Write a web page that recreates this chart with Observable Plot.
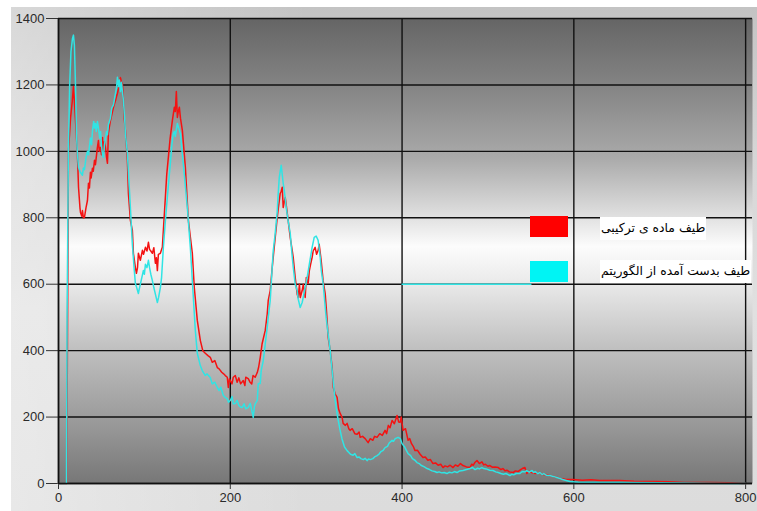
<!DOCTYPE html>
<html><head><meta charset="utf-8">
<script src="https://cdn.jsdelivr.net/npm/d3@7"></script>
<script src="https://cdn.jsdelivr.net/npm/@observablehq/plot@0.6"></script>
<style>
body{margin:0;background:#fff;}
#wrap{position:relative;width:757px;height:511px;overflow:hidden;background:#fff;}
#panel{position:absolute;left:11px;top:7px;right:0;bottom:0;
  background:linear-gradient(180deg,#c3c3c3 0%,#d6d6d6 30%,#e0e0e0 60%,#dcdcdc 100%);}
#panel2{position:absolute;left:11px;top:7px;right:0;bottom:0;
  background:linear-gradient(90deg,rgba(255,255,255,0.35) 0%,rgba(255,255,255,0) 40%,rgba(255,255,255,0) 100%);}
#chart{position:absolute;left:0;top:0;}
#chart svg{background:transparent;}
.sw{position:absolute;left:530px;width:38px;height:21px;}
.lt{position:absolute;left:600px;background:#fff;color:#000;direction:rtl;
  font-family:"DejaVu Sans",sans-serif;font-size:12.4px;line-height:22px;height:23px;padding:0 1px;white-space:nowrap;}
</style></head>
<body>
<svg width="0" height="0" style="position:absolute">
  <defs>
    <linearGradient id="plotbg" x1="0" y1="0" x2="0" y2="1">
      <stop offset="0" stop-color="#656565"/>
      <stop offset="0.15" stop-color="#858585"/>
      <stop offset="0.30" stop-color="#aaaaaa"/>
      <stop offset="0.44" stop-color="#e6e6e6"/>
      <stop offset="0.49" stop-color="#fcfcfc"/>
      <stop offset="0.56" stop-color="#ececec"/>
      <stop offset="0.72" stop-color="#bdbdbd"/>
      <stop offset="0.88" stop-color="#979797"/>
      <stop offset="1" stop-color="#777777"/>
    </linearGradient>
  </defs>
</svg>
<div id="wrap">
  <div id="panel"></div><div id="panel2"></div>
  <div id="chart"></div>
</div>
<script>
const xTicks = [0, 200, 400, 600, 800];
const yTicks = [0, 200, 400, 600, 800, 1000, 1200, 1400];
const seriesNames = ["طیف ماده ی ترکیبی", "طیف بدست آمده از الگوریتم"];
const seriesColors = ["#f41212", "#30e4e4"];

// red: spectrum of the compound material
const redSpectrum = [
[0,0],[8,0],[9.5,0],[10.5,450],[11.6,1000],[14,1100],[16,1150],[17.4,1195],[18.5,1150],[19.8,1093],
[22,994],[23.3,892],[25,830],[25.6,816],[27,805],[27.9,822],[29,800],[30.2,801],[32,830],[33.7,852],
[34.9,904],[36,890],[37.2,937],[38,920],[39.5,949],[40.5,940],[41.9,973],[43,960],[45.3,1012],[46.5,1033],
[47.5,1000],[48.8,1012],[50,990],[51.2,1042],[52.3,994],[53.5,1030],[54.7,1012],[56,980],[57,964],[58.1,1054],
[59,1070],[60.5,1093],[62,1110],[64,1133],[66,1150],[68.6,1175],[70,1190],[72.1,1222],[73.3,1208],[74.4,1205],
[75.6,1153],[76.5,1100],[77.9,1063],[80.2,973],[81.4,873],[83.7,792],[85,775],[86,762],[87.2,693],[89.5,651],
[90.7,633],[92,650],[93,693],[95.3,672],[97.7,702],[99,690],[101.2,711],[103,700],[104.7,726],[106,705],
[107.5,700],[109.3,693],[111,710],[112.8,663],[114,680],[115.1,641],[116.3,690],[118.6,693],[120.9,711],[122.5,780],
[124.4,861],[126,930],[127.9,982],[130,1040],[132.6,1093],[134.9,1133],[136,1120],[137.2,1180],[138.4,1102],[139.5,1120],
[140.7,1133],[142,1100],[144.2,1063],[147.7,952],[151.2,792],[155.8,693],[158.1,590],[161.6,491],[165.1,431],[168,400],
[170.9,392],[174,385],[176.7,380],[179,365],[182,370],[184.9,349],[187,345],[190,335],[191.9,331],[194.2,325],
[196.5,320],[197.7,289],[199,315],[200,310],[202,300],[203.5,320],[205.8,325],[208,305],[210,318],[212,300],
[215.1,310],[217,295],[218,320],[220.9,316],[223,305],[225,300],[226.5,325],[229,320],[231.4,334],[233,350],
[234.9,380],[237,420],[240.7,461],[243,510],[244.2,551],[246.5,581],[248.8,650],[250,681],[252.3,740],[254.7,801],
[256,830],[258.1,873],[259.3,880],[260.5,892],[261.6,831],[263,850],[264,861],[265.1,840],[267.4,792],[269.8,740],
[272.1,702],[273.3,680],[275.6,620],[277.9,570],[279.1,560],[280.5,600],[281.5,560],[283.7,581],[285,600],[287.2,560],
[288.5,620],[290.7,602],[292,640],[293.5,660],[295.3,681],[296.5,700],[298.8,711],[300.5,690],[302.3,702],[303.5,720],
[305.8,672],[308.1,610],[310.5,572],[312,520],[314,440],[316.3,400],[318.6,349],[320,289],[322,270],[324.4,259],
[326,225],[327.9,211],[330.2,199],[331.4,181],[334,175],[336,181],[338,165],[339.5,160],[342,165],[345,150],
[347.7,148],[350,155],[351.2,139],[354,142],[357,135],[360.5,123],[363,135],[366,130],[368,142],[370.9,139],
[374,150],[377,145],[380.2,160],[382,150],[384,175],[386,168],[388.4,190],[391,180],[394.2,205],[396,185],
[397.7,184],[399,200],[401.2,160],[404,165],[407,130],[409,135],[411,120],[413,112],[415.1,99],[418,100],
[421,88],[424.4,78],[427,80],[430,70],[433,72],[436,60],[439,62],[442,55],[445,58],[447.7,48],
[450,53],[453,50],[456,55],[459.3,48],[462,56],[465,52],[468,60],[470.9,54],[475,50],[479.1,48],
[481,58],[483,55],[485,64],[487.2,69],[490,60],[493,65],[495,56],[497,58],[500,52],[502.3,54],
[505,49],[508,50],[512,48],[515,42],[517.4,45],[520,38],[522,40],[525,35],[529.1,33],[532,38],
[535,36],[538,42],[540,45],[543,48],[545.3,30],[548,36],[550,34],[555,30],[560.5,33],[563,27],
[566,28],[572.1,24],[578,20],[583.7,15],[590,13],[598.8,12],[610,10],[620,11],[630.2,9],[653.5,9],
[670,7],[693,6],[710,5],[727.9,3],[758.1,3],[780,2],[796.5,0],[800,0]
];

// cyan: spectrum obtained from the algorithm
const cyanSpectrum = [
[0,0],[8,0],[9.3,0],[10,500],[11.5,1000],[13,1200],[14.5,1300],[16.3,1340],[17.4,1350],[18.5,1320],
[19.8,1200],[21,1050],[22.1,990],[23.3,952],[25,940],[25.6,937],[27.9,928],[29,950],[30.2,945],[32,980],
[33.7,1000],[35,990],[37.2,1040],[38.5,1020],[39.5,1060],[41,1090],[42,1070],[43,1084],[44,1060],[45.3,1090],
[46.5,1070],[48,1040],[49,1060],[50,1020],[51.2,990],[52.3,982],[53.5,1020],[54.7,1040],[56,1060],[57,1050],
[58.1,1080],[60.5,1100],[62,1130],[64,1140],[66,1170],[67.5,1190],[68.6,1223],[70,1195],[71,1215],[72.1,1180],
[73.3,1208],[74.4,1180],[75.6,1153],[77,1100],[78,1050],[80.2,994],[83.7,831],[86,720],[88,650],[89.5,602],
[91,590],[93,572],[94,585],[95.3,600],[97,620],[98.8,641],[100,630],[101.2,660],[103,650],[104.7,672],
[106,650],[107.5,630],[109.3,611],[111,590],[112.8,570],[115.1,545],[116.5,560],[118.6,590],[120,620],[122.1,711],
[124.4,790],[126.7,861],[128,900],[130.2,964],[132,1020],[133.7,1054],[135,1060],[136,1045],[138.4,1084],[140,1070],
[141.9,1054],[143.5,1010],[145.3,964],[150,831],[153.5,711],[155.8,611],[159.3,461],[161.6,392],[165.1,355],[167.4,340],
[170.9,325],[173,330],[176.7,319],[179,300],[182,305],[184.9,289],[187,280],[189,290],[191.9,265],[194.2,259],
[196.5,255],[198,245],[200,250],[202,262],[203.5,240],[205.8,241],[208,250],[210,235],[212,230],[214,229],
[216,240],[218,225],[220.9,229],[223.3,241],[225,220],[226.7,199],[228,230],[229,240],[231.4,250],[232.6,301],
[234.9,301],[236,340],[238.4,370],[240.7,420],[243,470],[244.2,500],[246.5,551],[248.8,651],[250,700],[252.3,753],
[254.7,820],[255.8,873],[257,920],[258.1,940],[259.3,958],[260.5,930],[261.6,904],[263,880],[265.1,831],[267.4,790],
[269.8,753],[271.5,700],[273.3,651],[275.6,600],[277.9,581],[279.1,555],[281.4,530],[283.7,545],[284.9,560],[287.2,590],
[289.5,620],[292,660],[295.3,711],[297.7,741],[300,745],[302.3,732],[304.7,681],[306,640],[308.1,602],[311.6,500],
[316.3,400],[319,330],[322.1,250],[325,200],[327.9,160],[330,135],[333,110],[336,99],[340,88],[343,85],
[345,90],[347.7,78],[350,80],[352,75],[355,72],[357,76],[359.3,69],[361,74],[363,72],[366,75],
[368,80],[370.9,84],[373,88],[375,95],[378,100],[380.2,108],[383,112],[385,122],[388.4,130],[390,127],
[392,135],[395.3,139],[398,135],[400,120],[403,110],[405,100],[407,90],[410,84],[412,75],[415,70],
[417.4,63],[420,60],[422,55],[426,50],[429.1,45],[432,42],[435,38],[438,36],[440.7,33],[443,35],
[446,32],[449,33],[452.3,30],[455,34],[458,32],[461,36],[464,33],[467,38],[470.9,39],[475,42],
[479.1,45],[482,48],[485,42],[488,46],[490,44],[493,48],[495,45],[498,44],[502,40],[505.8,39],
[509,35],[512,33],[515,30],[518,28],[521,30],[525.6,24],[528,28],[530,26],[533,30],[537.2,30],
[540,36],[543,35],[545,39],[548,34],[551.2,39],[553,33],[555,36],[558,30],[560.5,33],[563,27],
[565,30],[568,25],[572.1,24],[575,22],[578,20],[580,18],[583.7,15],[587,12],[590,10],[595.3,6],
[605,4],[622,3],[661.6,3],[700,2],[750,1],[777.9,0],[800,0]
];

// stray cyan segment at 600 next to the legend
const strayLine = [[400, 600], [550, 600]];

const chart = Plot.plot({
  width: 757,
  height: 511,
  marginLeft: 58,
  marginRight: 5,
  marginTop: 18,
  marginBottom: 28,
  style: {background: "transparent", fontFamily: "'Liberation Sans', Arial, sans-serif", fontSize: "13px", color: "#2a2a2a"},
  x: {domain: [0, 808], ticks: xTicks},
  y: {domain: [0, 1400], ticks: yTicks},
  marks: [
    Plot.frame({fill: "url(#plotbg)", stroke: "none"}),
    Plot.gridX(xTicks, {stroke: "#111", strokeOpacity: 1, strokeWidth: 1.4}),
    Plot.gridY(yTicks, {stroke: "#111", strokeOpacity: 1, strokeWidth: 1.4}),
    Plot.axisX(xTicks, {tickSize: 6, tickPadding: 3, stroke: "#333", fontSize: 13, label: null, tickFormat: d => String(d)}),
    Plot.axisY(yTicks, {tickSize: 12, tickPadding: 2, stroke: "#333", fontSize: 13, label: null, tickFormat: d => String(d)}),
    Plot.line(redSpectrum, {x: d => d[0], y: d => d[1], stroke: seriesColors[0], strokeWidth: 1.5}),
    Plot.line(cyanSpectrum, {x: d => d[0], y: d => d[1], stroke: seriesColors[1], strokeWidth: 1.5}),
    Plot.line(strayLine, {x: d => d[0], y: d => d[1], stroke: seriesColors[1], strokeWidth: 1.5}),
    Plot.ruleX([0], {stroke: "#111", strokeWidth: 1.5}),
    Plot.ruleY([0], {stroke: "#111", strokeWidth: 1.5})
  ]
});
document.getElementById("chart").appendChild(chart);

// legend inside the plot area
const wrap = document.getElementById("wrap");
const swTop = [216, 261];
const txTop = [217, 260];
seriesNames.forEach((name, i) => {
  const sw = document.createElement("div");
  sw.className = "sw";
  sw.style.top = swTop[i] + "px";
  sw.style.background = i === 0 ? "#ff0000" : "#00f4f4";
  wrap.appendChild(sw);
  const t = document.createElement("div");
  t.className = "lt";
  t.style.top = txTop[i] + "px";
  t.textContent = name;
  wrap.appendChild(t);
});
</script>
</body></html>
